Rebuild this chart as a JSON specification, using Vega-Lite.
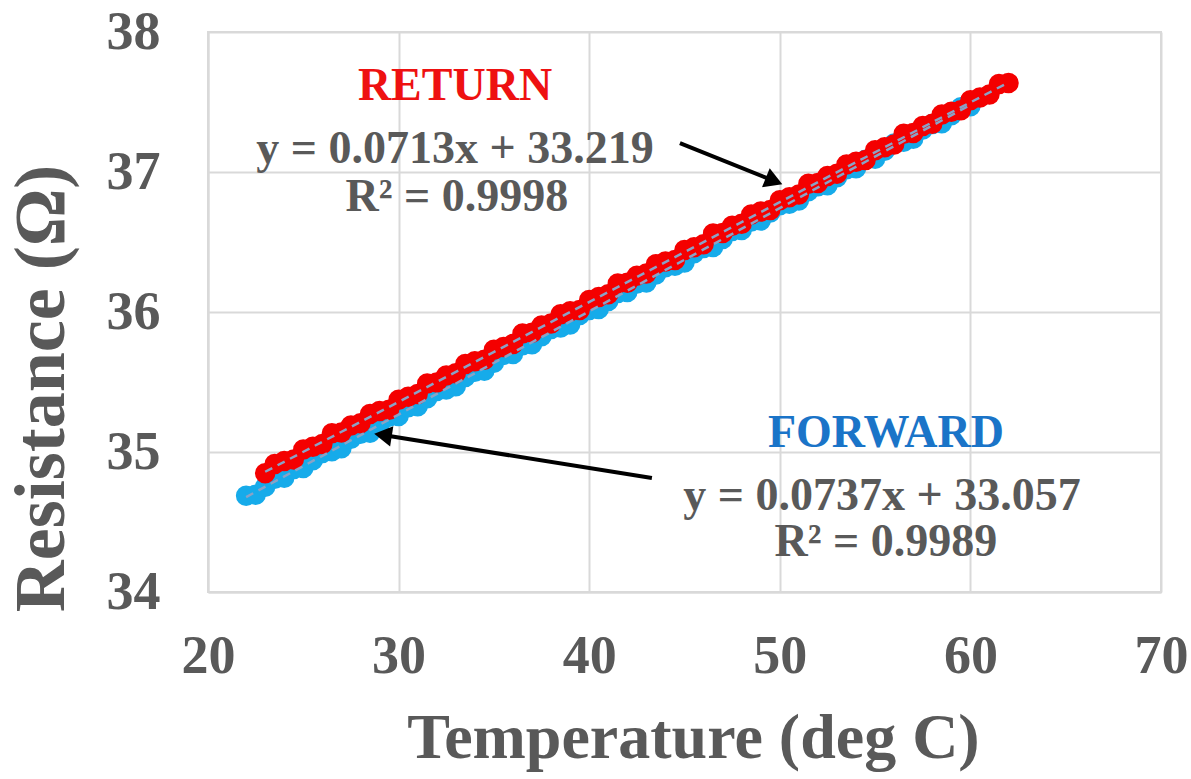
{
  "$schema": "https://vega.github.io/schema/vega-lite/v6.json",
  "width": 953,
  "height": 560,
  "autosize": {"type": "none"},
  "padding": {"left": 208, "top": 32, "right": 30, "bottom": 187},
  "background": "white",
  "config": {
    "view": {"stroke": "#d9d9d9", "strokeWidth": 2},
    "axis": {
      "grid": true, "gridColor": "#d9d9d9", "gridWidth": 2,
      "domainColor": "#d9d9d9", "domainWidth": 2,
      "ticks": false, "tickSize": 0,
      "labelFont": "Liberation Serif", "labelFontWeight": "bold", "labelFontSize": 54, "labelColor": "#595959",
      "labelFlush": false, "labelOverlap": false,
      "titleFont": "Liberation Serif", "titleFontWeight": "bold", "titleColor": "#595959"
    }
  },
  "datasets": {
    "fwd": [
      {"t":22.0,"r":34.688},{"t":22.5,"r":34.695},{"t":23.0,"r":34.752},{"t":23.5,"r":34.809},{"t":24.0,"r":34.816},{"t":24.5,"r":34.878},{"t":25.0,"r":34.885},{"t":25.5,"r":34.941},{"t":26.0,"r":34.993},{"t":26.5,"r":35.005},{"t":27.0,"r":35.027},{"t":27.5,"r":35.094},{"t":28.0,"r":35.131},{"t":28.5,"r":35.137},{"t":29.0,"r":35.194},{"t":29.5,"r":35.251},{"t":30.0,"r":35.258},{"t":30.5,"r":35.320},{"t":31.0,"r":35.327},{"t":31.5,"r":35.384},{"t":32.0,"r":35.435},{"t":32.5,"r":35.447},{"t":33.0,"r":35.469},{"t":33.5,"r":35.536},{"t":34.0,"r":35.573},{"t":34.5,"r":35.580},{"t":35.0,"r":35.637},{"t":35.5,"r":35.693},{"t":36.0,"r":35.700},{"t":36.5,"r":35.762},{"t":37.0,"r":35.769},{"t":37.5,"r":35.826},{"t":38.0,"r":35.878},{"t":38.5,"r":35.889},{"t":39.0,"r":35.911},{"t":39.5,"r":35.978},{"t":40.0,"r":36.015},{"t":40.5,"r":36.022},{"t":41.0,"r":36.079},{"t":41.5,"r":36.135},{"t":42.0,"r":36.142},{"t":42.5,"r":36.204},{"t":43.0,"r":36.211},{"t":43.5,"r":36.268},{"t":44.0,"r":36.320},{"t":44.5,"r":36.331},{"t":45.0,"r":36.354},{"t":45.5,"r":36.420},{"t":46.0,"r":36.457},{"t":46.5,"r":36.464},{"t":47.0,"r":36.521},{"t":47.5,"r":36.578},{"t":48.0,"r":36.585},{"t":48.5,"r":36.646},{"t":49.0,"r":36.653},{"t":49.5,"r":36.710},{"t":50.0,"r":36.762},{"t":50.5,"r":36.774},{"t":51.0,"r":36.796},{"t":51.5,"r":36.862},{"t":52.0,"r":36.899},{"t":52.5,"r":36.906},{"t":53.0,"r":36.963},{"t":53.5,"r":37.020},{"t":54.0,"r":37.027},{"t":54.5,"r":37.088},{"t":55.0,"r":37.095},{"t":55.5,"r":37.152},{"t":56.0,"r":37.204},{"t":56.5,"r":37.216},{"t":57.0,"r":37.238},{"t":57.5,"r":37.304},{"t":58.0,"r":37.342},{"t":58.5,"r":37.348},{"t":59.0,"r":37.405},{"t":59.5,"r":37.462},{"t":60.0,"r":37.469}
    ],
    "ret": [
      {"t":23.0,"r":34.849},{"t":23.5,"r":34.915},{"t":24.0,"r":34.935},{"t":24.5,"r":34.946},{"t":25.0,"r":35.017},{"t":25.5,"r":35.037},{"t":26.0,"r":35.058},{"t":26.5,"r":35.134},{"t":27.0,"r":35.139},{"t":27.5,"r":35.190},{"t":28.0,"r":35.205},{"t":28.5,"r":35.271},{"t":29.0,"r":35.292},{"t":29.5,"r":35.302},{"t":30.0,"r":35.373},{"t":30.5,"r":35.394},{"t":31.0,"r":35.414},{"t":31.5,"r":35.490},{"t":32.0,"r":35.496},{"t":32.5,"r":35.546},{"t":33.0,"r":35.562},{"t":33.5,"r":35.628},{"t":34.0,"r":35.648},{"t":34.5,"r":35.659},{"t":35.0,"r":35.730},{"t":35.5,"r":35.750},{"t":36.0,"r":35.771},{"t":36.5,"r":35.847},{"t":37.0,"r":35.852},{"t":37.5,"r":35.903},{"t":38.0,"r":35.918},{"t":38.5,"r":35.984},{"t":39.0,"r":36.005},{"t":39.5,"r":36.015},{"t":40.0,"r":36.086},{"t":40.5,"r":36.107},{"t":41.0,"r":36.127},{"t":41.5,"r":36.203},{"t":42.0,"r":36.209},{"t":42.5,"r":36.259},{"t":43.0,"r":36.275},{"t":43.5,"r":36.341},{"t":44.0,"r":36.361},{"t":44.5,"r":36.372},{"t":45.0,"r":36.443},{"t":45.5,"r":36.463},{"t":46.0,"r":36.484},{"t":46.5,"r":36.560},{"t":47.0,"r":36.565},{"t":47.5,"r":36.616},{"t":48.0,"r":36.631},{"t":48.5,"r":36.697},{"t":49.0,"r":36.718},{"t":49.5,"r":36.728},{"t":50.0,"r":36.799},{"t":50.5,"r":36.820},{"t":51.0,"r":36.840},{"t":51.5,"r":36.916},{"t":52.0,"r":36.922},{"t":52.5,"r":36.972},{"t":53.0,"r":36.988},{"t":53.5,"r":37.054},{"t":54.0,"r":37.074},{"t":54.5,"r":37.085},{"t":55.0,"r":37.156},{"t":55.5,"r":37.176},{"t":56.0,"r":37.197},{"t":56.5,"r":37.273},{"t":57.0,"r":37.278},{"t":57.5,"r":37.329},{"t":58.0,"r":37.344},{"t":58.5,"r":37.410},{"t":59.0,"r":37.431},{"t":59.5,"r":37.441},{"t":60.0,"r":37.512},{"t":60.5,"r":37.533},{"t":61.0,"r":37.553},{"t":61.5,"r":37.629},{"t":62.0,"r":37.635}
    ],
    "trend": [
      {"series":"FORWARD","t":22,"r":34.678},{"series":"FORWARD","t":60,"r":37.479},
      {"series":"RETURN","t":23,"r":34.859},{"series":"RETURN","t":62,"r":37.640}
    ],
    "heads": [
      {"label":"RETURN","t":32.96,"r":37.514},
      {"label":"FORWARD","t":55.57,"r":35.036}
    ],
    "eqs": [
      {"label":"y = 0.0713x + 33.219","t":32.96,"r":37.066},
      {"label":"R² = 0.9998","t":33.06,"r":36.725},
      {"label":"y = 0.0737x + 33.057","t":55.36,"r":34.588},
      {"label":"R² = 0.9989","t":55.57,"r":34.260}
    ],
    "arrows": [
      {"t":44.76,"r":37.207,"t2":49.70,"r2":36.936,"ang":112},
      {"t":43.29,"r":34.814,"t2":29.18,"r2":35.121,"ang":279}
    ]
  },
  "encoding": {
    "x": {
      "field": "t", "type": "quantitative",
      "scale": {"domain": [20, 70], "nice": false, "zero": false},
      "axis": {
        "values": [20, 30, 40, 50, 60, 70],
        "labelPadding": 37,
        "title": "Temperature (deg C)",
        "titleFontSize": 64,
        "titleX": 485, "titleY": 165,
        "titleAlign": "center", "titleBaseline": "alphabetic"
      }
    },
    "y": {
      "field": "r", "type": "quantitative",
      "scale": {"domain": [34, 38], "nice": false, "zero": false},
      "axis": {
        "values": [34, 35, 36, 37, 38],
        "labelPadding": 48,
        "title": "Resistance (Ω)",
        "titleFontSize": 72,
        "titleAngle": -90,
        "titleX": -145, "titleY": 356,
        "titleAlign": "center", "titleBaseline": "alphabetic"
      }
    }
  },
  "layer": [
    {
      "data": {"name": "fwd"},
      "mark": {"type": "point", "shape": "circle", "filled": true, "size": 420, "color": "#16ABEA", "opacity": 1, "strokeWidth": 0}
    },
    {
      "data": {"name": "ret"},
      "mark": {"type": "point", "shape": "circle", "filled": true, "size": 420, "color": "#F40000", "opacity": 1, "strokeWidth": 0}
    },
    {
      "data": {"name": "trend"},
      "mark": {"type": "line", "strokeDash": [8, 6], "strokeWidth": 2.5, "color": "#8AA2C6"},
      "encoding": {
        "detail": {"field": "series", "type": "nominal"}
      }
    },
    {
      "data": {"name": "heads"},
      "transform": [{"filter": "datum.label === 'RETURN'"}],
      "mark": {"type": "text", "font": "Liberation Serif", "fontWeight": "bold", "fontSize": 46, "align": "center", "baseline": "alphabetic", "color": "#EE1111"},
      "encoding": {"text": {"field": "label"}}
    },
    {
      "data": {"name": "heads"},
      "transform": [{"filter": "datum.label === 'FORWARD'"}],
      "mark": {"type": "text", "font": "Liberation Serif", "fontWeight": "bold", "fontSize": 46, "align": "center", "baseline": "alphabetic", "color": "#1A74C8"},
      "encoding": {"text": {"field": "label"}}
    },
    {
      "data": {"name": "eqs"},
      "mark": {"type": "text", "font": "Liberation Serif", "fontWeight": "bold", "fontSize": 46, "align": "center", "baseline": "alphabetic", "color": "#595959"},
      "encoding": {"text": {"field": "label"}}
    },
    {
      "data": {"name": "arrows"},
      "mark": {"type": "rule", "strokeWidth": 4, "color": "#000000"},
      "encoding": {
        "x2": {"field": "t2"},
        "y2": {"field": "r2"}
      }
    },
    {
      "data": {"name": "arrows"},
      "mark": {"type": "point", "shape": "triangle-up", "filled": true, "size": 420, "color": "#000000", "opacity": 1, "strokeWidth": 0},
      "encoding": {
        "x": {"field": "t2", "type": "quantitative"},
        "y": {"field": "r2", "type": "quantitative"},
        "angle": {"field": "ang", "type": "quantitative", "scale": null}
      }
    }
  ]
}
